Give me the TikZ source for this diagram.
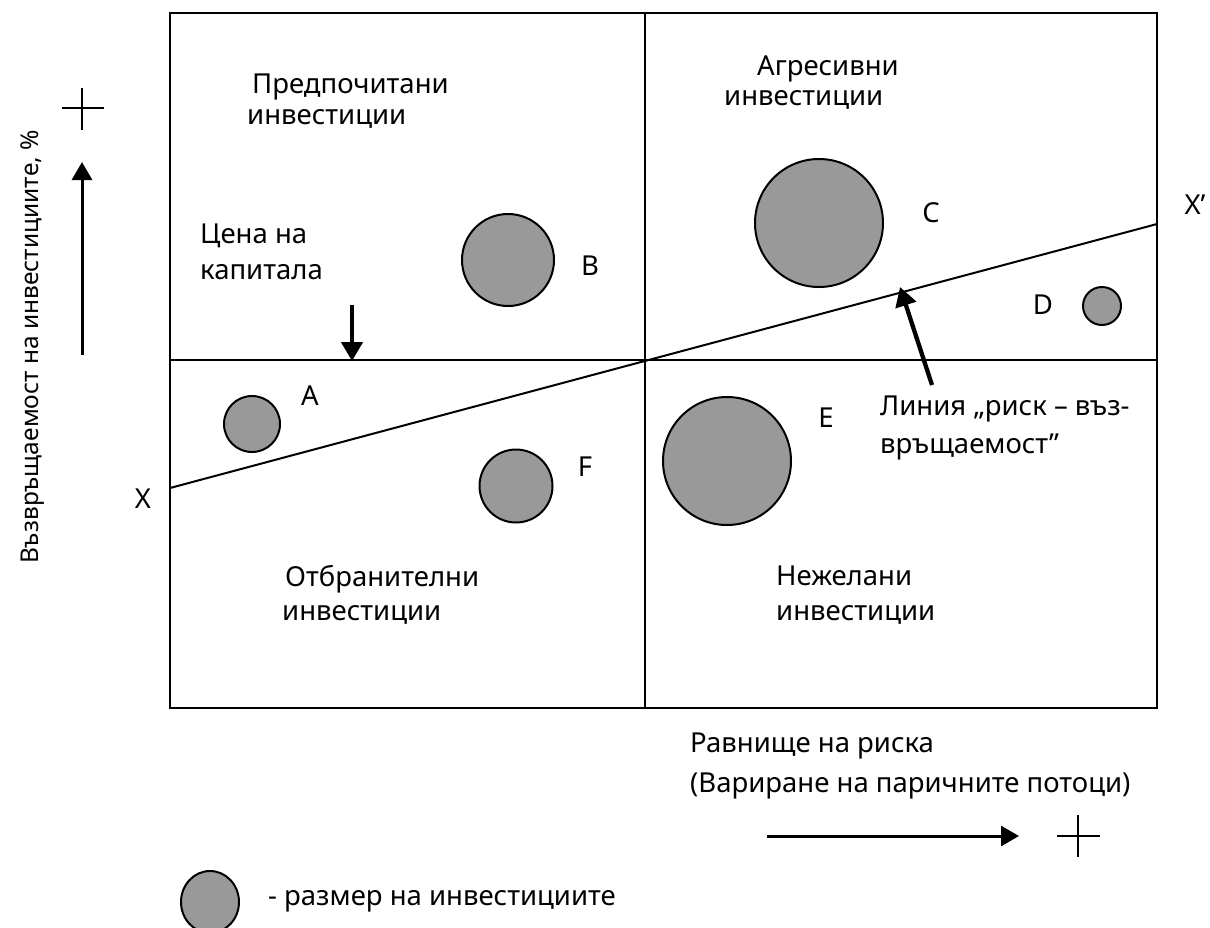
\documentclass[tikz,border=0pt]{standalone}
\usepackage{fontspec}
\setmainfont{Noto Sans}[Script=Cyrillic,Language=Bulgarian]
\usetikzlibrary{arrows.meta,shapes.geometric}
\definecolor{bubgray}{HTML}{999999}
\begin{document}
\begin{tikzpicture}[x=1pt,y=-1pt,
  frame/.style={line width=2pt},
  lbl/.style={inner sep=0pt,anchor=base west,font=\fontsize{27.5}{31}\selectfont},
  letter/.style={inner sep=0pt,font=\fontsize{27.5}{31}\selectfont},
  bub/.style={circle,draw,line width=2pt,fill=bubgray,inner sep=0pt},
  axarrow/.style={line width=3pt,-{Triangle[length=18pt,width=20pt]}},
  thickarrow/.style={line width=4.3pt,-{Triangle[length=19pt,width=21pt]}},
  plusline/.style={line width=2pt}]
\useasboundingbox (0,0) rectangle (1210,927);
% frame and quadrants
\coordinate (tl) at (170,13);
\coordinate (br) at (1157,708);
\coordinate (mt) at (645,13);
\coordinate (mb) at (645,708);
\coordinate (ml) at (170,360);
\coordinate (mr) at (1157,360);
\draw[frame] (tl) rectangle (br);
\draw[frame] (mt) -- (mb);
\draw[frame] (ml) -- (mr);
% risk-return line
\coordinate (Xl) at (170,488);
\coordinate (Xr) at (1157,224);
\draw[frame] (Xl) -- (Xr);
\node[letter] (labX) at (143,499) {X};
\node[letter] (labXp) at (1195,205) {X’};
% bubbles
\node[bub,minimum size=56pt] (A) at (252,424) {};
\node[bub,minimum size=92pt] (B) at (508,260) {};
\node[bub,minimum size=128pt] (C) at (819,223) {};
\node[bub,minimum size=38pt] (D) at (1102,306) {};
\node[bub,minimum size=128pt] (E) at (727,461) {};
\node[bub,minimum size=73pt] (F) at (516,486) {};
\node[letter] (labA) at (310,396) {A};
\node[letter] (labB) at (590,266) {B};
\node[letter] (labC) at (931,213) {C};
\node[letter] (labD) at (1043,305) {D};
\node[letter] (labE) at (826,418) {E};
\node[letter] (labF) at (585,467) {F};
% quadrant labels
\node[lbl] (pref1) at (252,93) {Предпочитани};
\node[lbl] (pref2) at (247,124) {инвестиции};
\node[lbl] (agr1) at (757,75) {Агресивни};
\node[lbl] (agr2) at (724,105) {инвестиции};
\node[lbl] (cost1) at (200,243) {Цена на};
\node[lbl] (cost2) at (200,279) {капитала};
\node[lbl] (def1) at (285,586) {Отбранителни};
\node[lbl] (def2) at (282,620) {инвестиции};
\node[lbl] (und1) at (776,585) {Нежелани};
\node[lbl] (und2) at (776,620) {инвестиции};
\node[lbl] (line1) at (880,415) {Линия „риск – въз-};
\node[lbl] (line2) at (880,453) {връщаемост”};
% pointer arrows
\coordinate (costS) at (352,305);
\coordinate (costE) at (352,361);
\draw[thickarrow] (costS) -- (costE);
\coordinate (rlS) at (932,385);
\coordinate (rlE) at (900,287);
\draw[thickarrow] (rlS) -- (rlE);
% y axis
\node[lbl,rotate=90,anchor=base,font=\fontsize{24.5}{28}\selectfont] (ylab) at (38,347) {Възвръщаемост на инвестициите, \%};
\coordinate (upS) at (82,355);
\coordinate (upE) at (82,162);
\draw[axarrow] (upS) -- (upE);
\coordinate (p1l) at (62,108);
\coordinate (p1r) at (104,108);
\coordinate (p1t) at (82,88);
\coordinate (p1b) at (82,130);
\draw[plusline] (p1l) -- (p1r);
\draw[plusline] (p1t) -- (p1b);
% x axis
\node[lbl] (xlab1) at (690,752) {Равнище на риска};
\node[lbl] (xlab2) at (690,792) {(Вариране на паричните потоци)};
\coordinate (rtS) at (767,836);
\coordinate (rtE) at (1019,836);
\draw[axarrow] (rtS) -- (rtE);
\coordinate (p2l) at (1057,836);
\coordinate (p2r) at (1100,836);
\coordinate (p2t) at (1078,815);
\coordinate (p2b) at (1078,857);
\draw[plusline] (p2l) -- (p2r);
\draw[plusline] (p2t) -- (p2b);
% legend
\node[ellipse,draw,line width=2pt,fill=bubgray,inner sep=0pt,minimum width=58pt,minimum height=62pt] (leg) at (210,902) {};
\node[lbl] (legtxt) at (268,905) {- размер на инвестициите};
\end{tikzpicture}
\end{document}
